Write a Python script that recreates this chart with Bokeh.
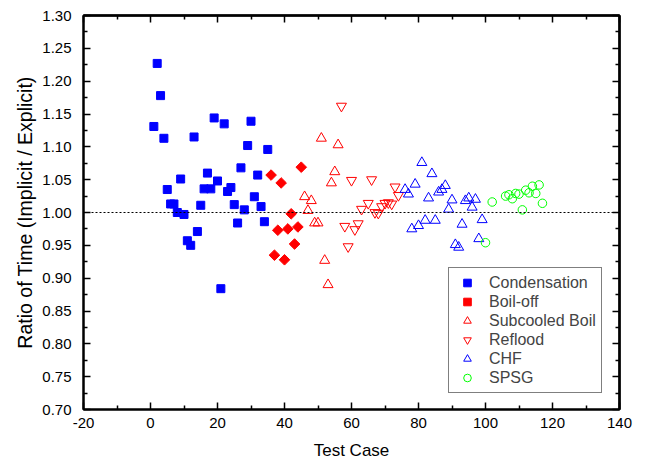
import numpy as np
from bokeh.plotting import figure
from bokeh.models import (Range1d, FixedTicker, PrintfTickFormatter, LinearAxis,
                          Span, Legend, LegendItem)
from bokeh.embed import file_html
from bokeh.resources import INLINE

# ---- data ----
cond_x = list(range(1, 36))
cond_y = [1.131, 1.227, 1.178, 1.113, 1.035, 1.013, 1.013, 1.000, 1.051, 0.997,
          0.957, 0.950, 1.115, 0.971, 1.011, 1.036, 1.060, 1.036, 1.144, 1.048,
          0.884, 1.135, 1.032, 1.038, 1.012, 0.984, 1.068, 1.004, 1.102, 1.139,
          1.024, 1.057, 1.009, 0.986, 1.096]

boil_x = [36, 37, 38, 39, 40, 41, 42, 43, 44, 45]
boil_y = [1.057, 0.935, 0.973, 1.045, 0.928, 0.975, 0.998, 0.952, 0.978, 1.069]

sub_x = [46, 47, 48, 49, 50, 51, 52, 53, 54, 55, 56]
sub_y = [1.024, 1.003, 1.018, 0.984, 0.984, 1.113, 0.927, 0.890, 1.045, 1.062, 1.103]

refl_x = [57, 58, 59, 60, 61, 62, 63, 65, 66, 67, 68, 69, 70, 71, 72, 73, 74]
refl_y = [1.162, 0.979, 0.948, 1.049, 0.974, 0.983, 1.005, 1.014, 1.050, 1.000,
          0.999, 1.009, 1.014, 1.015, 1.013, 1.039, 1.026]

chf_x = list(range(76, 100))
chf_y = [1.035, 1.028, 0.975, 1.043, 0.980, 1.076, 0.988, 1.022, 1.059, 0.988,
         1.031, 1.035, 1.041, 1.005, 1.019, 0.951, 0.947, 0.982, 1.018, 1.022,
         1.008, 1.020, 0.960, 0.989]

spsg_x = [100, 102, 106, 107, 108, 109, 110, 111, 112, 113, 114, 115, 116, 117]
spsg_y = [0.954, 1.016, 1.025, 1.027, 1.021, 1.029, 1.028, 1.004, 1.034, 1.030,
          1.040, 1.029, 1.042, 1.014]

x_ticks = [-20, 0, 20, 40, 60, 80, 100, 120, 140]
x_minor = [-10, 10, 30, 50, 70, 90, 110, 130]
y_ticks = [0.70, 0.75, 0.80, 0.85, 0.90, 0.95, 1.00, 1.05, 1.10, 1.15, 1.20, 1.25, 1.30]
y_minor = [0.725, 0.775, 0.825, 0.875, 0.925, 0.975, 1.025, 1.075, 1.125, 1.175, 1.225, 1.275]

FONT = "Liberation Sans"

p = figure(frame_width=536, frame_height=394,
           x_range=Range1d(-20, 140), y_range=Range1d(0.70, 1.30),
           output_backend="svg", toolbar_location=None,
           min_border_left=83, min_border_right=29, min_border_top=15, min_border_bottom=60)
p.xgrid.visible = False
p.ygrid.visible = False
p.outline_line_color = "black"
p.outline_line_width = 2

def style_axis(ax, ticks, minor):
    ax.ticker = FixedTicker(ticks=ticks, minor_ticks=minor)
    ax.axis_line_width = 2
    ax.axis_line_color = "black"
    ax.major_tick_in = 7
    ax.major_tick_out = 0
    ax.minor_tick_in = 4
    ax.minor_tick_out = 0
    ax.major_tick_line_width = 1.5
    ax.minor_tick_line_width = 1.5
    ax.major_label_text_font = FONT
    ax.major_label_text_font_size = "15px"
    ax.major_label_text_color = "black"
    ax.axis_label_text_font = FONT
    ax.axis_label_text_font_size = "17px"
    ax.axis_label_text_font_style = "normal"
    ax.axis_label_text_color = "black"

def mirror_axis(side, positions, length):
    # label-free axis: only "minor" ticks, so no tick labels are produced
    ax = LinearAxis(ticker=FixedTicker(ticks=[], minor_ticks=positions))
    ax.axis_line_width = 2
    ax.axis_line_color = "black"
    ax.major_tick_in = 0
    ax.major_tick_out = 0
    ax.minor_tick_in = length
    ax.minor_tick_out = 0
    ax.minor_tick_line_width = 1.5
    ax.major_label_standoff = 0
    ax.axis_label_standoff = 0
    p.add_layout(ax, side)

style_axis(p.xaxis[0], x_ticks, x_minor)
style_axis(p.yaxis[0], y_ticks, y_minor)
p.xaxis[0].formatter = PrintfTickFormatter(format="%d")
p.yaxis[0].formatter = PrintfTickFormatter(format="%.2f")
p.xaxis[0].axis_label = "Test Case"
p.yaxis[0].axis_label = "Ratio of Time (Implicit / Explicit)"
p.yaxis[0].axis_label_text_font_size = "19.5px"
p.xaxis[0].major_label_standoff = 8
p.yaxis[0].major_label_standoff = 12
p.xaxis[0].axis_label_standoff = 10
p.yaxis[0].axis_label_standoff = 3

mirror_axis("above", x_ticks, 7)
mirror_axis("above", x_minor, 4)
mirror_axis("right", y_ticks, 7)
mirror_axis("right", y_minor, 4)

p.add_layout(Span(location=1.0, dimension="width", line_color="black",
                  line_dash="2 2", line_width=1))

r1 = p.scatter(cond_x, cond_y, marker="square", size=8, fill_color="#0000FF",
               line_color="#0000FF", line_width=1)
r2 = p.scatter(boil_x, boil_y, marker="square", angle=np.pi / 4, size=7.5,
               fill_color="#FF0000", line_color="#FF0000", line_width=1)
r3 = p.scatter(sub_x, sub_y, marker="triangle", size=10, fill_color=None,
               line_color="#FF0000", line_width=1)
r4 = p.scatter(refl_x, refl_y, marker="inverted_triangle", size=10, fill_color=None,
               line_color="#FF0000", line_width=1)
r5 = p.scatter(chf_x, chf_y, marker="triangle", size=10, fill_color=None,
               line_color="#0000FF", line_width=1)
r6 = p.scatter(spsg_x, spsg_y, marker="circle", size=8.5, fill_color=None,
               line_color="#00FF00", line_width=1)

legend = Legend(items=[
    LegendItem(label="Condensation", renderers=[r1]),
    LegendItem(label="Boil-off", renderers=[r2]),
    LegendItem(label="Subcooled Boil", renderers=[r3]),
    LegendItem(label="Reflood", renderers=[r4]),
    LegendItem(label="CHF", renderers=[r5]),
    LegendItem(label="SPSG", renderers=[r6]),
], location=(365, 16))
legend.border_line_color = "black"
legend.border_line_width = 1
legend.background_fill_color = "white"
legend.background_fill_alpha = 1
legend.label_text_font = FONT
legend.label_text_font_size = "16px"
legend.glyph_width = 26
legend.glyph_height = 19
legend.label_height = 19
legend.label_standoff = 9
legend.spacing = 0
legend.padding = 5
legend.margin = 0
p.add_layout(legend, "center")

open("out.html", "w").write(file_html(p, INLINE))
